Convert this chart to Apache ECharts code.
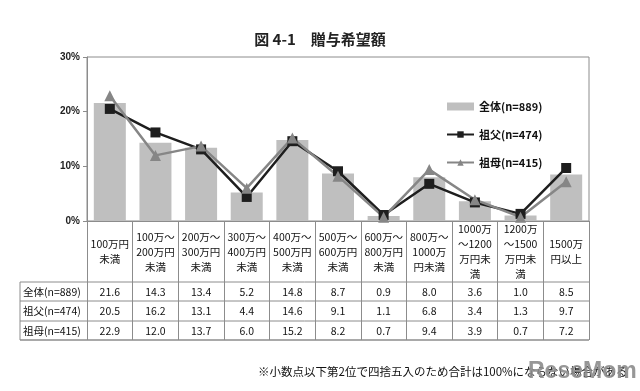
<!DOCTYPE html>
<html>
<head>
<meta charset="utf-8">
<script src="https://cdn.jsdelivr.net/npm/echarts@6/dist/echarts.min.js"></script>
<style>
html,body{margin:0;padding:0;background:#fff;}
#main{width:640px;height:391px;}
</style>
</head>
<body>
<div id="main"></div>
<script>
const titleText = '図 4-1　贈与希望額';
const categories = ['100万円\n未満', '100万～\n200万円\n未満', '200万～\n300万円\n未満', '300万～\n400万円\n未満', '400万～\n500万円\n未満', '500万～\n600万円\n未満', '600万～\n800万円\n未満', '800万～\n1000万\n円未満', '1000万\n～1200\n万円未\n満', '1200万\n～1500\n万円未\n満', '1500万\n円以上'];
const seriesNames = ['全体(n=889)', '祖父(n=474)', '祖母(n=415)'];
const totalValues = [21.6, 14.3, 13.4, 5.2, 14.8, 8.7, 0.9, 8.0, 3.6, 1.0, 8.5];
const grandpaValues = [20.5, 16.2, 13.1, 4.4, 14.6, 9.1, 1.1, 6.8, 3.4, 1.3, 9.7];
const grandmaValues = [22.9, 12.0, 13.7, 6.0, 15.2, 8.2, 0.7, 9.4, 3.9, 0.7, 7.2];
const yMin = 0, yMax = 30, yStep = 10;
const footnote = '※小数点以下第2位で四捨五入のため合計は100%にならない場合がある';

const FONT = '"Noto Sans CJK JP", "Noto Sans", sans-serif';
const chart = echarts.init(document.getElementById('main'), null, {renderer: 'canvas'});

const gridLeft = 87, gridRight = 51, gridTop = 57, gridBottom = 170;
const option = {
  animation: false,
  backgroundColor: '#fff',
  textStyle: {fontFamily: FONT},
  title: {
    text: titleText, left: 'center', top: 27,
    textStyle: {fontFamily: FONT, fontSize: 15, fontWeight: 'bold', color: '#222'}
  },
  grid: {left: gridLeft, right: gridRight, top: gridTop, bottom: gridBottom, show: true, borderColor: '#8c8c8c', borderWidth: 1},
  legend: {
    orient: 'vertical', left: 441, top: 96, itemGap: 17, itemWidth: 27, itemHeight: 8,
    textStyle: {fontFamily: FONT, fontSize: 11, color: '#111', fontWeight: 'bold'},
    data: [{name: seriesNames[0], icon: 'rect'}, {name: seriesNames[1]}, {name: seriesNames[2]}]
  },
  xAxis: {
    type: 'category', data: categories, boundaryGap: true,
    axisLine: {show: true, lineStyle: {color: '#8c8c8c'}},
    axisTick: {show: true, length: 119, alignWithLabel: false, lineStyle: {color: '#8c8c8c'}},
    axisLabel: {interval: 0, margin: 31, verticalAlign: 'middle', lineHeight: 15, fontSize: 10.5, color: '#111', fontFamily: FONT}
  },
  yAxis: {
    type: 'value', min: yMin, max: yMax, interval: yStep,
    axisLine: {show: true, lineStyle: {color: '#8c8c8c'}},
    axisTick: {show: true, length: 4, lineStyle: {color: '#8c8c8c'}},
    splitLine: {show: false},
    axisLabel: {formatter: v => v + '%', fontSize: 10, fontWeight: 'bold', color: '#222', margin: 7, fontFamily: 'Liberation Sans, Arial, sans-serif'}
  },
  series: [
    {name: seriesNames[0], type: 'bar', data: totalValues, barWidth: 32, itemStyle: {color: '#bfbfbf'}},
    {name: seriesNames[1], type: 'line', data: grandpaValues, symbol: 'rect', symbolSize: 10,
     lineStyle: {color: '#1e1e1e', width: 2.5}, itemStyle: {color: '#1e1e1e'}},
    {name: seriesNames[2], type: 'line', data: grandmaValues, symbol: 'triangle', symbolSize: 11,
     lineStyle: {color: '#868686', width: 2.5}, itemStyle: {color: '#868686'}}
  ]
};
chart.setOption(option);

// table below chart
const rowY = [292, 311, 331];
const rowLines = [282, 301, 321, 340];
const tableLeft = 20, tableRight = 640 - gridRight;
const graphics = [];
rowLines.forEach((y, i) => {
  graphics.push({type: 'line', shape: {x1: tableLeft, y1: y, x2: tableRight, y2: y},
    style: {stroke: '#8c8c8c', lineWidth: i === rowLines.length - 1 ? 1.5 : 1}});
});
graphics.push({type: 'line', shape: {x1: tableLeft, y1: rowLines[0], x2: tableLeft, y2: rowLines[rowLines.length - 1]}, style: {stroke: '#8c8c8c', lineWidth: 1}});
const rows = [totalValues, grandpaValues, grandmaValues];
rows.forEach((vals, r) => {
  graphics.push({type: 'text', x: tableLeft + 3, y: rowY[r],
    style: {text: seriesNames[r], fontSize: 10.5, fontFamily: FONT, fill: '#111', textVerticalAlign: 'middle', verticalAlign: 'middle'}});
  vals.forEach((v, i) => {
    const px = chart.convertToPixel({xAxisIndex: 0}, i);
    graphics.push({type: 'text', x: px, y: rowY[r],
      style: {text: v.toFixed(1), fontSize: 10.5, fontFamily: FONT, fill: '#111', align: 'center', textAlign: 'center', verticalAlign: 'middle', textVerticalAlign: 'middle'}});
  });
});
graphics.push({type: 'text', x: 258, y: 372,
  style: {text: footnote, fontSize: 11.5, fontFamily: FONT, fill: '#111', verticalAlign: 'middle', textVerticalAlign: 'middle'}});
graphics.push({type: 'text', x: 528, y: 372,
  style: {text: 'ReseMom', fontSize: 23, fontWeight: 'bold', fontFamily: 'Liberation Sans, Arial, sans-serif', fill: 'rgba(140,140,140,0.9)', verticalAlign: 'middle', textVerticalAlign: 'middle'}});
chart.setOption({graphic: graphics});
</script>
</body>
</html>
